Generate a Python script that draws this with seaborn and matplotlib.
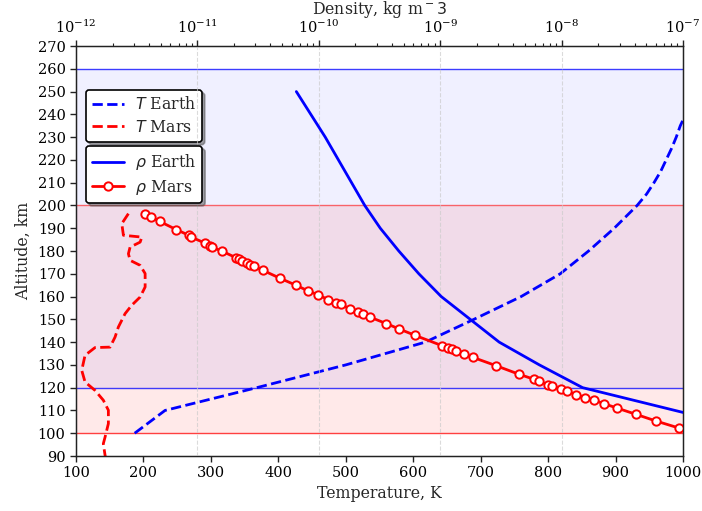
import numpy as np
import pandas as pd
import matplotlib
matplotlib.use("Agg")
import matplotlib.pyplot as plt
import seaborn as sns
from matplotlib.ticker import LogLocator, MultipleLocator

# ---------------- data ----------------
# Earth temperature profile (K) vs altitude (km)
earth_T_alt = [100, 110, 120, 130, 140, 150, 160, 170, 180, 190, 200, 205, 210, 215, 220,
               225, 230, 235, 240, 250]
earth_T = [187, 232, 368, 500, 618, 690, 760, 818, 860, 898, 932, 946, 957, 967, 975,
           983, 990, 996, 1004, 1015]

# Mars temperature profile (K) vs altitude (km)
mars_T_alt = [196.4, 192.0, 186.9, 186.1, 183.9, 181.7, 178.8, 175.9, 173.7, 170.1, 164.2,
              159.8, 156.2, 152.5, 146.6, 142.2, 137.8, 137.6, 134.2, 127.6, 122.5, 118.8,
              114.5, 110.1, 104.2, 98.3, 95.4, 90.3, 88.0]
mars_T = [177.7, 167.9, 170.3, 197.6, 195.1, 180.2, 177.7, 180.2, 195.1, 202.5, 202.5,
          195.1, 182.7, 172.8, 162.8, 157.9, 150.5, 128.2, 113.4, 108.5, 113.4, 128.2,
          140.5, 148.0, 148.0, 143.1, 140.5, 143.1, 145.0]

# Earth density (kg m^-3) vs altitude (km)
earth_rho_alt = [250, 230, 200, 190, 180, 170, 160, 140, 130, 120, 100]
earth_rho = [6.53e-11, 1.13e-10, 2.39e-10, 3.21e-10, 4.56e-10, 6.67e-10, 1.02e-9,
             3.06e-9, 6.56e-9, 1.49e-8, 4.95e-7]

# Mars density (kg m^-3) vs altitude (km)
mars_rho_alt = [196.4, 194.9, 193.0, 189.4, 186.9, 186.1, 183.5, 182.2, 181.7, 179.9,
                177.1, 176.3, 175.6, 174.7, 174.0, 173.3, 171.5, 168.1, 164.9, 162.5,
                160.8, 158.7, 157.3, 156.6, 154.5, 153.2, 152.5, 150.9, 148.1, 145.8,
                143.0, 138.4, 137.4, 137.0, 136.1, 134.6, 133.3, 129.7, 125.9, 123.7,
                122.8, 121.3, 120.7, 119.4, 118.5, 117.0, 115.6, 114.5, 113.0, 111.1,
                108.3, 105.4, 102.3]
mars_rho = [3.67e-12, 4.17e-12, 4.88e-12, 6.70e-12, 8.51e-12, 8.91e-12, 1.15e-11, 1.28e-11,
            1.32e-11, 1.60e-11, 2.07e-11, 2.20e-11, 2.34e-11, 2.56e-11, 2.73e-11, 2.92e-11,
            3.47e-11, 4.76e-11, 6.53e-11, 8.15e-11, 9.84e-11, 1.19e-10, 1.38e-10, 1.51e-10,
            1.82e-10, 2.10e-10, 2.31e-10, 2.66e-10, 3.61e-10, 4.58e-10, 6.18e-10, 1.04e-9,
            1.15e-9, 1.24e-9, 1.36e-9, 1.58e-9, 1.86e-9, 2.87e-9, 4.45e-9, 5.92e-9,
            6.53e-9, 7.74e-9, 8.28e-9, 9.86e-9, 1.11e-8, 1.31e-8, 1.57e-8, 1.86e-8,
            2.23e-8, 2.84e-8, 4.10e-8, 5.96e-8, 9.23e-8]

# ---------------- style ----------------
sns.set_style("ticks")
plt.rcParams["font.family"] = ["DejaVu Serif"]
plt.rcParams["font.size"] = 10.5
plt.rcParams["axes.edgecolor"] = "#222222"
plt.rcParams["xtick.color"] = "#222222"
plt.rcParams["ytick.color"] = "#222222"
plt.rcParams["xtick.labelcolor"] = "black"
plt.rcParams["ytick.labelcolor"] = "black"

LBL = 11.3
fig = plt.figure(figsize=(7.02, 5.11), dpi=100)
ax = fig.add_axes([76 / 702, 1 - 456 / 511, (683 - 76) / 702, (456 - 46) / 511])

# background bands
ax.axhspan(120, 260, color="blue", alpha=0.06, lw=0, zorder=0)
ax.axhspan(100, 200, color="red", alpha=0.085, lw=0, zorder=0)
ax.axhline(260, color="blue", lw=1.0, alpha=0.75, zorder=1)
ax.axhline(120, color="blue", lw=1.0, alpha=0.75, zorder=1)
ax.axhline(200, color="red", lw=1.0, alpha=0.55, zorder=1)
ax.axhline(100, color="red", lw=1.0, alpha=0.75, zorder=1)

dfTe = pd.DataFrame({"T": earth_T, "alt": earth_T_alt})
dfTm = pd.DataFrame({"T": mars_T, "alt": mars_T_alt})
sns.lineplot(data=dfTe, x="T", y="alt", sort=False, estimator=None, ax=ax,
             color="blue", lw=2.0, linestyle="--", label="$T$ Earth")
sns.lineplot(data=dfTm, x="T", y="alt", sort=False, estimator=None, ax=ax,
             color="red", lw=2.0, linestyle="--", label="$T$ Mars")

ax.set_xlim(100, 1000)
ax.set_ylim(90, 270)
ax.xaxis.set_major_locator(MultipleLocator(100))
ax.yaxis.set_major_locator(MultipleLocator(10))
ax.set_xlabel("Temperature, K", fontsize=LBL, labelpad=3)
ax.set_ylabel("Altitude, km", fontsize=LBL)
ax.tick_params(axis="both", labelsize=10.5, direction="out", length=4, width=1)
for s in ax.spines.values():
    s.set_visible(True)
    s.set_linewidth(1.0)

# density axis
ax2 = ax.twiny()
dfRe = pd.DataFrame({"rho": earth_rho, "alt": earth_rho_alt})
dfRm = pd.DataFrame({"rho": mars_rho, "alt": mars_rho_alt})
sns.lineplot(data=dfRe, x="rho", y="alt", sort=False, estimator=None, ax=ax2,
             color="blue", lw=2.0, label=r"$\rho$ Earth")
sns.lineplot(data=dfRm, x="rho", y="alt", sort=False, estimator=None, ax=ax2,
             color="red", lw=2.0, marker="o", markersize=6, markerfacecolor="white",
             markeredgecolor="red", markeredgewidth=1.4, label=r"$\rho$ Mars")
ax2.set_xscale("log")
ax2.set_xlim(1e-12, 1e-7)
ax2.set_ylim(90, 270)
ax2.set_xlabel("Density, kg m$^-3$", fontsize=LBL, labelpad=3)
ax2.set_ylabel("")
ax2.xaxis.set_major_locator(LogLocator(base=10, numticks=10))
ax2.xaxis.set_minor_locator(LogLocator(base=10, subs=np.arange(2, 10), numticks=20))
ax2.tick_params(axis="x", which="major", labelsize=10.5, direction="out", length=4, width=1)
ax2.tick_params(axis="x", which="minor", direction="out", length=2.5, width=0.8)
ax2.grid(True, axis="x", which="major", linestyle="--", color="#cccccc", lw=0.8, alpha=0.7)
ax2.set_axisbelow(True)

leg1 = ax.legend(loc="upper left", bbox_to_anchor=(0.0165, 0.893), borderaxespad=0,
                 fontsize=LBL, frameon=True, shadow=True, fancybox=True,
                 edgecolor="black", framealpha=1, labelspacing=0.35,
                 borderpad=0.4, handletextpad=0.7)
leg1.get_frame().set_linewidth(1.2)
leg2 = ax2.legend(loc="upper left", bbox_to_anchor=(0.0165, 0.756), borderaxespad=0,
                  fontsize=LBL, frameon=True, shadow=True, fancybox=True,
                  edgecolor="black", framealpha=1, labelspacing=0.35,
                  borderpad=0.4, handletextpad=0.7)
leg2.get_frame().set_linewidth(1.2)

fig.savefig("out.png", dpi=100)
